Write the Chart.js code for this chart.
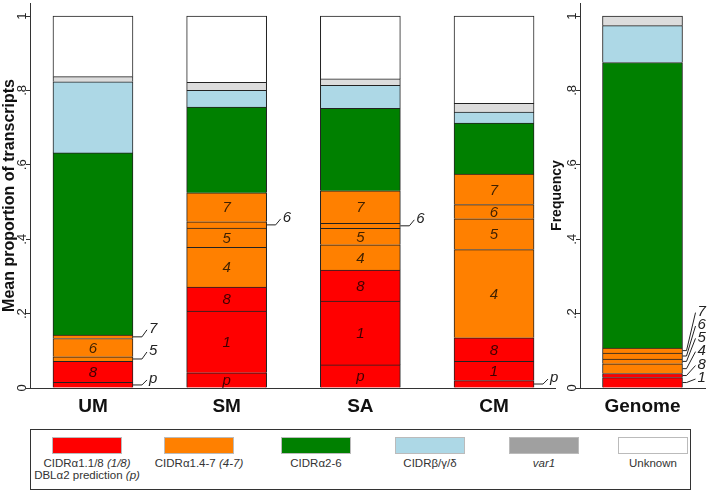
<!DOCTYPE html>
<html>
<head>
<meta charset="utf-8">
<script src="https://cdn.jsdelivr.net/npm/chart.js@4.4.1/dist/chart.umd.min.js"></script>
<style>
body { margin: 0; background: #fff; width: 709px; height: 494px; position: relative; overflow: hidden; font-family: Arial, "Liberation Sans", sans-serif; }
canvas { position: absolute; top: 0; }
#main { left: 0; }
#genome { left: 549px; }
#legend { position: absolute; left: 30px; top: 429px; width: 661px; height: 61px; border: 1px solid #333; box-sizing: border-box; }
.item { position: absolute; top: 7px; width: 120px; margin-left: -60px; text-align: center; font-size: 11.5px; line-height: 12px; color: #333; white-space: nowrap; }
.sw { width: 70px; height: 17px; margin: 0 auto 3px; box-sizing: border-box; border: 1px solid #bbb; }
</style>
</head>
<body>
<canvas id="main" width="565" height="420"></canvas>
<canvas id="genome" width="160" height="420"></canvas>
<div id="legend"></div>
<script>
// bars of the left panel
const groups = ['UM', 'SM', 'SA', 'CM'];
const dblaP    = [0.015, 0.041, 0.062, 0.020];
const cidr1    = [0,     0.166, 0.172, 0.052];
const cidr8    = [0.057, 0.064, 0.083, 0.063];
const cidr4    = [0,     0.107, 0.068, 0.237];
const cidr5    = [0.012, 0.052, 0.044, 0.083];
const cidr6    = [0.049, 0.017, 0.014, 0.038];
const cidr7    = [0.009, 0.078, 0.087, 0.082];
const cidrA26  = [0.490, 0.230, 0.222, 0.137];
const cidrBGD  = [0.191, 0.045, 0.062, 0.030];
const var1     = [0.014, 0.022, 0.017, 0.023];
const unknown  = [0.163, 0.178, 0.169, 0.235];

// genome panel
const genomeGroup = ['Genome'];
const gP = [0], g1 = [0.028], g8 = [0.011], g4 = [0.026], g5 = [0.013], g6 = [0.016], g7 = [0.013];
const gA26 = [0.768], gBGD = [0.099], gVar1 = [0.026], gUnknown = [0];

const yTicks = [0, 0.2, 0.4, 0.6, 0.8, 1];
const yTickLabels = ['0', '.2', '.4', '.6', '.8', '1'];

const legendNames = [
  'CIDRα1.1/8 <i>(1/8)</i><br>DBLα2 prediction <i>(p)</i>',
  'CIDRα1.4-7 <i>(4-7)</i>',
  'CIDRα2-6',
  'CIDRβ/γ/δ',
  '<i>var1</i>',
  'Unknown'
];
const legendColors = ['#ff0000', '#ff8000', '#008000', '#add8e6', '#a0a0a0', '#ffffff'];
const legendCenters = [56, 168, 285, 399, 513, 622];

const RED = '#ff0000', ORANGE = '#ff8000', GREEN = '#008000', BLUE = '#add8e6', GREY = '#dcdcdc', WHITE = '#ffffff';
const segTags = ['p', '1', '8', '4', '5', '6', '7', '', '', '', ''];
const segColors = [RED, RED, RED, ORANGE, ORANGE, ORANGE, ORANGE, GREEN, BLUE, GREY, WHITE];

Chart.defaults.font.family = 'Arial, "Liberation Sans", sans-serif';

function makeDatasets(lists) {
  return lists.map((vals, i) => ({
    tag: segTags[i],
    data: vals.map((v, j) => ({ x: j, y: v })),
    backgroundColor: segColors[i],
    borderColor: '#222',
    borderWidth: 1,
    borderSkipped: 'bottom',
    barThickness: 80
  }));
}

// italic segment labels, with leader lines for the thin ones
const segText = {
  id: 'segText',
  afterDatasetsDraw(chart, args, opts) {
    const ctx = chart.ctx;
    const outside = opts.callouts || [];
    ctx.save();
    ctx.font = 'italic 15px Arial, "Liberation Sans", sans-serif';
    ctx.lineWidth = 1;
    ctx.strokeStyle = '#222';
    chart.data.datasets.forEach((ds, si) => {
      if (!ds.tag) return;
      chart.getDatasetMeta(si).data.forEach((bar, bi) => {
        if (!ds.data[bi].y) return;
        const ym = (bar.y + bar.base) / 2;
        const c = outside.find(o => o.bar === bi && o.tag === ds.tag);
        if (c) {
          const xr = bar.x + bar.width / 2;
          ctx.beginPath();
          ctx.moveTo(xr, ym);
          ctx.lineTo(xr + c.h, ym);
          ctx.lineTo(xr + c.h + c.w, ym + c.dy);
          ctx.stroke();
          ctx.fillStyle = '#222';
          ctx.textAlign = 'left';
          ctx.textBaseline = 'middle';
          ctx.fillText(ds.tag, xr + c.h + c.w + 2, ym + c.dy - 1);
        } else {
          ctx.fillStyle = 'rgba(0,0,0,0.75)';
          ctx.textAlign = 'center';
          ctx.textBaseline = 'middle';
          ctx.fillText(ds.tag, bar.x, ym + 1);
        }
      });
    });
    ctx.restore();
  }
};

// rotated y tick labels
const yTickText = {
  id: 'yTickText',
  afterDraw(chart) {
    const y = chart.scales.y, ctx = chart.ctx;
    ctx.save();
    ctx.font = '13px Arial, "Liberation Sans", sans-serif';
    ctx.fillStyle = '#222';
    ctx.textAlign = 'center';
    ctx.textBaseline = 'middle';
    yTicks.forEach((v, i) => {
      ctx.save();
      ctx.translate(y.right - 8, y.getPixelForValue(v));
      ctx.rotate(-Math.PI / 2);
      ctx.fillText(yTickLabels[i], 0, 0);
      ctx.restore();
    });
    ctx.restore();
  }
};

function makeChart(id, labels, lists, cfg) {
  return new Chart(document.getElementById(id), {
    type: 'bar',
    data: { datasets: makeDatasets(lists) },
    plugins: [segText, yTickText],
    options: {
      responsive: false,
      animation: false,
      layout: { padding: { top: 3, right: cfg.padRight, left: 0, bottom: 0 } },
      plugins: {
        legend: { display: false },
        tooltip: { enabled: false },
        segText: { callouts: cfg.callouts }
      },
      scales: {
        x: {
          type: 'linear',
          stacked: true,
          offset: false,
          min: cfg.xMin,
          max: cfg.xMax,
          afterBuildTicks: s => { s.ticks = labels.map((l, i) => ({ value: i })); },
          afterFit: s => { s.height = 32; s.paddingLeft = 0; s.paddingRight = 0; },
          grid: { display: false, drawTicks: false },
          border: { display: true, color: '#333', width: 1 },
          ticks: {
            padding: 7,
            color: '#111',
            font: { size: 19, weight: 'bold' },
            callback: v => labels[v] ?? ''
          }
        },
        y: {
          stacked: true,
          min: 0,
          max: 1.035,
          afterBuildTicks: s => { s.ticks = yTicks.map(v => ({ value: v })); },
          afterFit: s => { s.width = cfg.yWidth; s.paddingTop = 0; s.paddingBottom = 0; },
          grid: { display: true, drawOnChartArea: false, drawTicks: true, tickLength: 4, color: '#333' },
          border: { display: true, color: '#333', width: 1 },
          ticks: { display: false },
          title: {
            display: true,
            text: cfg.title,
            color: '#111',
            padding: 0,
            font: { size: cfg.titleSize, weight: 'bold' }
          }
        }
      }
    }
  });
}

makeChart('main', groups,
  [dblaP, cidr1, cidr8, cidr4, cidr5, cidr6, cidr7, cidrA26, cidrBGD, var1, unknown],
  {
    xMin: -0.471, xMax: 3.456, padRight: 10, yWidth: 30,
    title: 'Mean proportion of transcripts', titleSize: 16,
    callouts: [
      { bar: 0, tag: '7', h: 9, w: 5, dy: -7 },
      { bar: 0, tag: '5', h: 9, w: 5, dy: -7 },
      { bar: 0, tag: 'p', h: 9, w: 5, dy: -5 },
      { bar: 1, tag: '6', h: 9, w: 5, dy: -6 },
      { bar: 2, tag: '6', h: 9, w: 5, dy: -6 },
      { bar: 3, tag: 'p', h: 9, w: 5, dy: -5 }
    ]
  });

makeChart('genome', genomeGroup,
  [gP, g1, g8, g4, g5, g6, g7, gA26, gBGD, gVar1, gUnknown],
  {
    xMin: -1, xMax: 1, padRight: 4, yWidth: 31,
    title: 'Frequency', titleSize: 14,
    callouts: [
      { bar: 0, tag: '7', h: 4, w: 9, dy: -38 },
      { bar: 0, tag: '6', h: 4, w: 9, dy: -30 },
      { bar: 0, tag: '5', h: 4, w: 9, dy: -23 },
      { bar: 0, tag: '4', h: 4, w: 9, dy: -17 },
      { bar: 0, tag: '8', h: 4, w: 9, dy: -10 },
      { bar: 0, tag: '1', h: 4, w: 9, dy: -3.5 }
    ]
  });

// legend box
const legend = document.getElementById('legend');
legendNames.forEach((name, i) => {
  const it = document.createElement('div');
  it.className = 'item';
  it.style.left = legendCenters[i] + 'px';
  it.innerHTML = '<div class="sw" style="background:' + legendColors[i] + '"></div>' + name;
  legend.appendChild(it);
});
</script>
</body>
</html>
